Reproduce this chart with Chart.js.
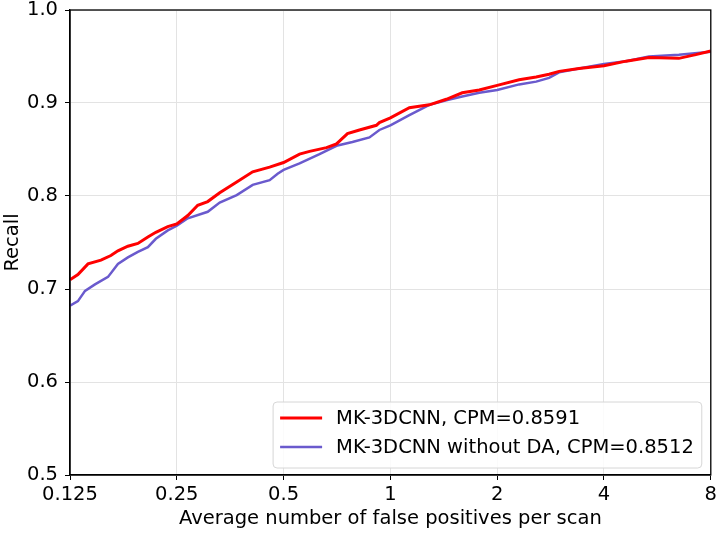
<!DOCTYPE html>
<html><head><meta charset="utf-8">
<script src="https://cdn.jsdelivr.net/npm/chart.js@4/dist/chart.umd.min.js"></script>
<style>html,body{margin:0;padding:0;background:#fff;} #wrap{width:720px;height:533px;position:relative}</style>
</head><body><div id="wrap"><canvas id="c" width="720" height="533"></canvas></div>
<script>
const xTicks = [0.125, 0.25, 0.5, 1, 2, 4, 8];
const yTicks = [0.5, 0.6, 0.7, 0.8, 0.9, 1.0];
const seriesNames = ['MK-3DCNN, CPM=0.8591', 'MK-3DCNN without DA, CPM=0.8512'];
const redX = [0.125,0.1316,0.1405,0.1528,0.163,0.1706,0.182,0.1942,0.2072,0.2182,0.2358,0.25,0.2685,0.2864,0.3056,0.3303,0.3688,0.4091,0.4567,0.5,0.5546,0.5918,0.6606,0.7048,0.7569,0.818,0.913,0.931,1.0,1.131,1.2875,1.4375,1.594,1.78,2.0,2.306,2.575,2.801,2.989,3.402,4.0,4.613,5.354,6.502,7.259,8.0];
const redY = [0.710,0.7155,0.727,0.731,0.736,0.741,0.746,0.749,0.756,0.761,0.767,0.770,0.779,0.790,0.794,0.8035,0.815,0.826,0.831,0.836,0.845,0.848,0.852,0.856,0.867,0.871,0.876,0.879,0.884,0.895,0.898,0.904,0.911,0.914,0.919,0.925,0.928,0.931,0.934,0.937,0.940,0.945,0.949,0.948,0.952,0.956];
const blueX = [0.125,0.1316,0.1378,0.147,0.16,0.1706,0.182,0.1942,0.2072,0.2182,0.2358,0.25,0.2685,0.3056,0.3303,0.3688,0.4091,0.4567,0.481,0.5,0.5546,0.6314,0.7048,0.7817,0.8728,0.931,1.0,1.131,1.2875,1.4375,1.594,1.78,2.0,2.306,2.575,2.801,2.989,3.402,4.0,4.613,5.354,6.502,8.0];
const blueY = [0.682,0.687,0.698,0.705,0.713,0.727,0.734,0.740,0.745,0.754,0.763,0.768,0.776,0.783,0.793,0.801,0.812,0.817,0.824,0.828,0.835,0.845,0.854,0.858,0.863,0.871,0.876,0.887,0.898,0.903,0.907,0.911,0.914,0.920,0.923,0.927,0.933,0.937,0.942,0.945,0.950,0.952,0.955];
const colors = ['#ff0000', '#6a5acd'];
const FONT = 'DejaVu Sans';
const FS = 19.5;

const toPts = (xs, ys) => xs.map((x, i) => ({x: x, y: ys[i]}));

const framePlugin = {
  id: 'frame',
  afterDraw(chart) {
    const {ctx, chartArea: a} = chart;
    ctx.save();
    ctx.strokeStyle = '#000';
    ctx.lineWidth = 1.3;
    ctx.strokeRect(a.left, a.top, a.right - a.left, a.bottom - a.top);
    // legend
    ctx.font = FS + 'px "' + FONT + '"';
    const tw = Math.max(...seriesNames.map(s => ctx.measureText(s).width));
    const lineLen = 42, gap = 14, padL = 7, padR = 8;
    const w = padL + lineLen + gap + tw + padR;
    const h = 66;
    const right = a.right - 9, bottom = a.bottom - 7;
    const x0 = right - w, y0 = bottom - h;
    const r = 4;
    ctx.beginPath();
    ctx.moveTo(x0 + r, y0);
    ctx.arcTo(x0 + w, y0, x0 + w, y0 + h, r);
    ctx.arcTo(x0 + w, y0 + h, x0, y0 + h, r);
    ctx.arcTo(x0, y0 + h, x0, y0, r);
    ctx.arcTo(x0, y0, x0 + w, y0, r);
    ctx.closePath();
    ctx.fillStyle = 'rgba(255,255,255,0.85)';
    ctx.fill();
    ctx.strokeStyle = '#d6d6d6';
    ctx.lineWidth = 1;
    ctx.stroke();
    ctx.textBaseline = 'middle';
    ctx.textAlign = 'left';
    seriesNames.forEach((s, i) => {
      const yy = y0 + 16 + i * 29;
      ctx.strokeStyle = colors[i];
      ctx.lineWidth = i === 0 ? 3 : 2.5;
      ctx.beginPath();
      ctx.moveTo(x0 + padL, yy);
      ctx.lineTo(x0 + padL + lineLen, yy);
      ctx.stroke();
      ctx.fillStyle = '#000';
      ctx.fillText(s, x0 + padL + lineLen + gap, yy + 1);
    });
    ctx.restore();
  }
};

new Chart(document.getElementById('c'), {
  type: 'line',
  data: {
    datasets: [
      {label: seriesNames[0], data: toPts(redX, redY), borderColor: colors[0], borderWidth: 3, pointRadius: 0, tension: 0, fill: false},
      {label: seriesNames[1], data: toPts(blueX, blueY), borderColor: colors[1], borderWidth: 2.5, pointRadius: 0, tension: 0, fill: false}
    ]
  },
  options: {
    responsive: false,
    devicePixelRatio: 1,
    animation: false,
    layout: {padding: {left: 0, right: 7, top: 10, bottom: 0}},
    plugins: {legend: {display: false}, tooltip: {enabled: false}},
    scales: {
      x: {
        type: 'logarithmic',
        min: 0.125, max: 8,
        afterBuildTicks: s => { s.ticks = xTicks.map(v => ({value: v})); },
        afterFit: s => { s.height = 58; },
        ticks: {callback: v => String(v), autoSkip: false, maxRotation: 0, color: '#000', font: {family: FONT, size: FS}, padding: 3},
        grid: {color: '#e3e3e3', lineWidth: 1, tickColor: '#000', tickLength: 5},
        border: {color: '#000', width: 1.3},
        title: {display: true, text: 'Average number of false positives per scan', color: '#000', font: {family: FONT, size: FS}, padding: {top: 0, bottom: 2}}
      },
      y: {
        type: 'linear',
        min: 0.5, max: 1.0,
        afterBuildTicks: s => { s.ticks = yTicks.map(v => ({value: v})); },
        afterFit: s => { s.width = 70; s.paddingTop = 0; s.paddingBottom = 0; },
        ticks: {callback: v => Number(v).toFixed(1), color: '#000', font: {family: FONT, size: FS}, padding: 7},
        grid: {color: '#e3e3e3', lineWidth: 1, tickColor: '#000', tickLength: 5},
        border: {color: '#000', width: 1.3},
        title: {display: true, text: 'Recall', color: '#000', font: {family: FONT, size: FS}, padding: {top: 1, bottom: 0}}
      }
    }
  },
  plugins: [framePlugin]
});
</script></body></html>
